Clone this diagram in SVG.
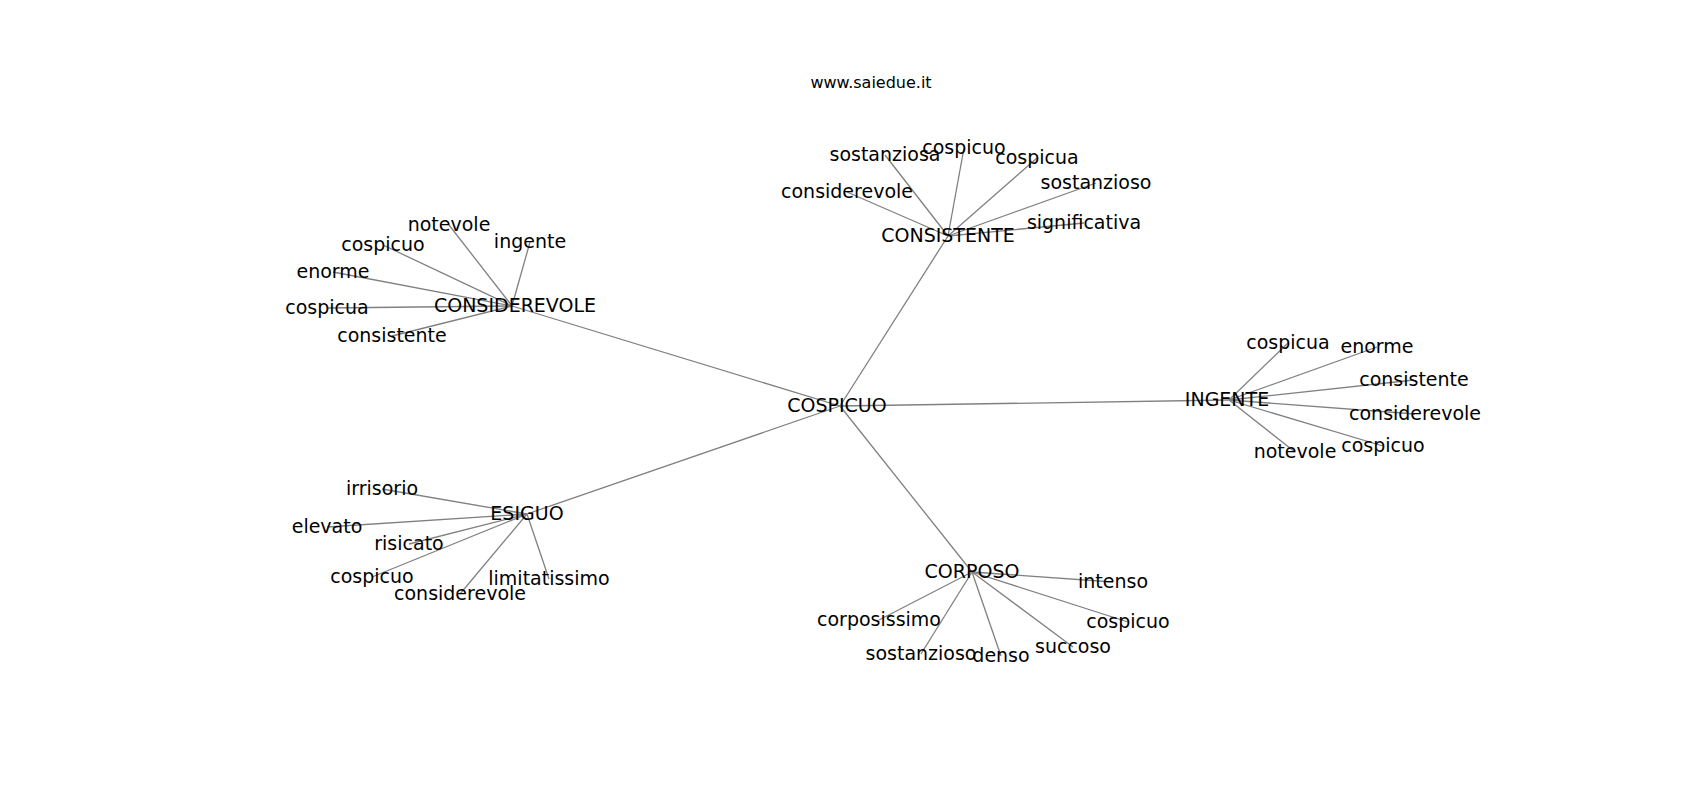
<svg xmlns="http://www.w3.org/2000/svg" width="1700" height="800" viewBox="0 0 1700 800">
<style>
  .bg { fill: #ffffff; }
  .edge { stroke: #808080; stroke-width: 1.3; fill: none; }
  .lbl { font-family: "DejaVu Sans", "Liberation Sans", sans-serif; font-size: 19px; fill: #000000; text-anchor: middle; }
  .title { font-family: "DejaVu Sans", "Liberation Sans", sans-serif; font-size: 16px; fill: #000000; text-anchor: middle; }
</style>
<rect class="bg" x="0" y="0" width="1700" height="800"/>
<text class="title" x="871" y="88">www.saiedue.it</text>
<g id="connectors">
  <!-- hub links -->
  <line class="edge" x1="840" y1="406" x2="948" y2="236"/>
  <line class="edge" x1="840" y1="406" x2="512" y2="306"/>
  <line class="edge" x1="840" y1="406" x2="1229" y2="400"/>
  <line class="edge" x1="840" y1="406" x2="527" y2="514"/>
  <line class="edge" x1="840" y1="406" x2="972" y2="572"/>
  <!-- CONSISTENTE -->
  <line class="edge" x1="948" y1="236" x2="885" y2="155"/>
  <line class="edge" x1="948" y1="236" x2="964" y2="148"/>
  <line class="edge" x1="948" y1="236" x2="1037" y2="158"/>
  <line class="edge" x1="948" y1="236" x2="1096" y2="183"/>
  <line class="edge" x1="948" y1="236" x2="847" y2="192"/>
  <line class="edge" x1="948" y1="236" x2="1084" y2="223"/>
  <!-- CONSIDEREVOLE -->
  <line class="edge" x1="512" y1="306" x2="449" y2="225"/>
  <line class="edge" x1="512" y1="306" x2="530" y2="242"/>
  <line class="edge" x1="512" y1="306" x2="383" y2="245"/>
  <line class="edge" x1="512" y1="306" x2="333" y2="272"/>
  <line class="edge" x1="512" y1="306" x2="327" y2="308"/>
  <line class="edge" x1="512" y1="306" x2="392" y2="336"/>
  <!-- INGENTE -->
  <line class="edge" x1="1229" y1="400" x2="1288" y2="343"/>
  <line class="edge" x1="1229" y1="400" x2="1377" y2="347"/>
  <line class="edge" x1="1229" y1="400" x2="1414" y2="380"/>
  <line class="edge" x1="1229" y1="400" x2="1415" y2="414"/>
  <line class="edge" x1="1229" y1="400" x2="1383" y2="446"/>
  <line class="edge" x1="1229" y1="400" x2="1295" y2="452"/>
  <!-- ESIGUO -->
  <line class="edge" x1="527" y1="514" x2="382" y2="489"/>
  <line class="edge" x1="527" y1="514" x2="327" y2="527"/>
  <line class="edge" x1="527" y1="514" x2="409" y2="544"/>
  <line class="edge" x1="527" y1="514" x2="372" y2="577"/>
  <line class="edge" x1="527" y1="514" x2="460" y2="594"/>
  <line class="edge" x1="527" y1="514" x2="549" y2="579"/>
  <!-- CORPOSO -->
  <line class="edge" x1="972" y1="572" x2="1113" y2="582"/>
  <line class="edge" x1="972" y1="572" x2="879" y2="620"/>
  <line class="edge" x1="972" y1="572" x2="1128" y2="622"/>
  <line class="edge" x1="972" y1="572" x2="1073" y2="647"/>
  <line class="edge" x1="972" y1="572" x2="921" y2="654"/>
  <line class="edge" x1="972" y1="572" x2="1001" y2="656"/>
</g>
<g id="n-cospicuo"><text class="lbl" x="837" y="412">COSPICUO</text></g>
<g id="n-consistente"><text class="lbl" x="948" y="242">CONSISTENTE</text></g>
<g id="n-considerevole"><text class="lbl" x="515" y="312">CONSIDEREVOLE</text></g>
<g id="n-ingente"><text class="lbl" x="1227" y="406">INGENTE</text></g>
<g id="n-esiguo"><text class="lbl" x="527" y="520">ESIGUO</text></g>
<g id="n-corposo"><text class="lbl" x="972" y="578">CORPOSO</text></g>

<g id="n-consistente-sostanziosa"><text class="lbl" x="885" y="161">sostanziosa</text></g>
<g id="n-consistente-cospicuo"><text class="lbl" x="964" y="154">cospicuo</text></g>
<g id="n-consistente-cospicua"><text class="lbl" x="1037" y="164">cospicua</text></g>
<g id="n-consistente-sostanzioso"><text class="lbl" x="1096" y="189">sostanzioso</text></g>
<g id="n-consistente-considerevole"><text class="lbl" x="847" y="198">considerevole</text></g>
<g id="n-consistente-significativa"><text class="lbl" x="1084" y="229">significativa</text></g>

<g id="n-considerevole-notevole"><text class="lbl" x="449" y="231">notevole</text></g>
<g id="n-considerevole-ingente"><text class="lbl" x="530" y="248">ingente</text></g>
<g id="n-considerevole-cospicuo"><text class="lbl" x="383" y="251">cospicuo</text></g>
<g id="n-considerevole-enorme"><text class="lbl" x="333" y="278">enorme</text></g>
<g id="n-considerevole-cospicua"><text class="lbl" x="327" y="314">cospicua</text></g>
<g id="n-considerevole-consistente"><text class="lbl" x="392" y="342">consistente</text></g>

<g id="n-ingente-cospicua"><text class="lbl" x="1288" y="349">cospicua</text></g>
<g id="n-ingente-enorme"><text class="lbl" x="1377" y="353">enorme</text></g>
<g id="n-ingente-consistente"><text class="lbl" x="1414" y="386">consistente</text></g>
<g id="n-ingente-considerevole"><text class="lbl" x="1415" y="420">considerevole</text></g>
<g id="n-ingente-cospicuo"><text class="lbl" x="1383" y="452">cospicuo</text></g>
<g id="n-ingente-notevole"><text class="lbl" x="1295" y="458">notevole</text></g>

<g id="n-esiguo-irrisorio"><text class="lbl" x="382" y="495">irrisorio</text></g>
<g id="n-esiguo-elevato"><text class="lbl" x="327" y="533">elevato</text></g>
<g id="n-esiguo-risicato"><text class="lbl" x="409" y="550">risicato</text></g>
<g id="n-esiguo-cospicuo"><text class="lbl" x="372" y="583">cospicuo</text></g>
<g id="n-esiguo-considerevole"><text class="lbl" x="460" y="600">considerevole</text></g>
<g id="n-esiguo-limitatissimo"><text class="lbl" x="549" y="585">limitatissimo</text></g>

<g id="n-corposo-intenso"><text class="lbl" x="1113" y="588">intenso</text></g>
<g id="n-corposo-corposissimo"><text class="lbl" x="879" y="626">corposissimo</text></g>
<g id="n-corposo-cospicuo"><text class="lbl" x="1128" y="628">cospicuo</text></g>
<g id="n-corposo-succoso"><text class="lbl" x="1073" y="653">succoso</text></g>
<g id="n-corposo-sostanzioso"><text class="lbl" x="921" y="660">sostanzioso</text></g>
<g id="n-corposo-denso"><text class="lbl" x="1001" y="662">denso</text></g>
</svg>
